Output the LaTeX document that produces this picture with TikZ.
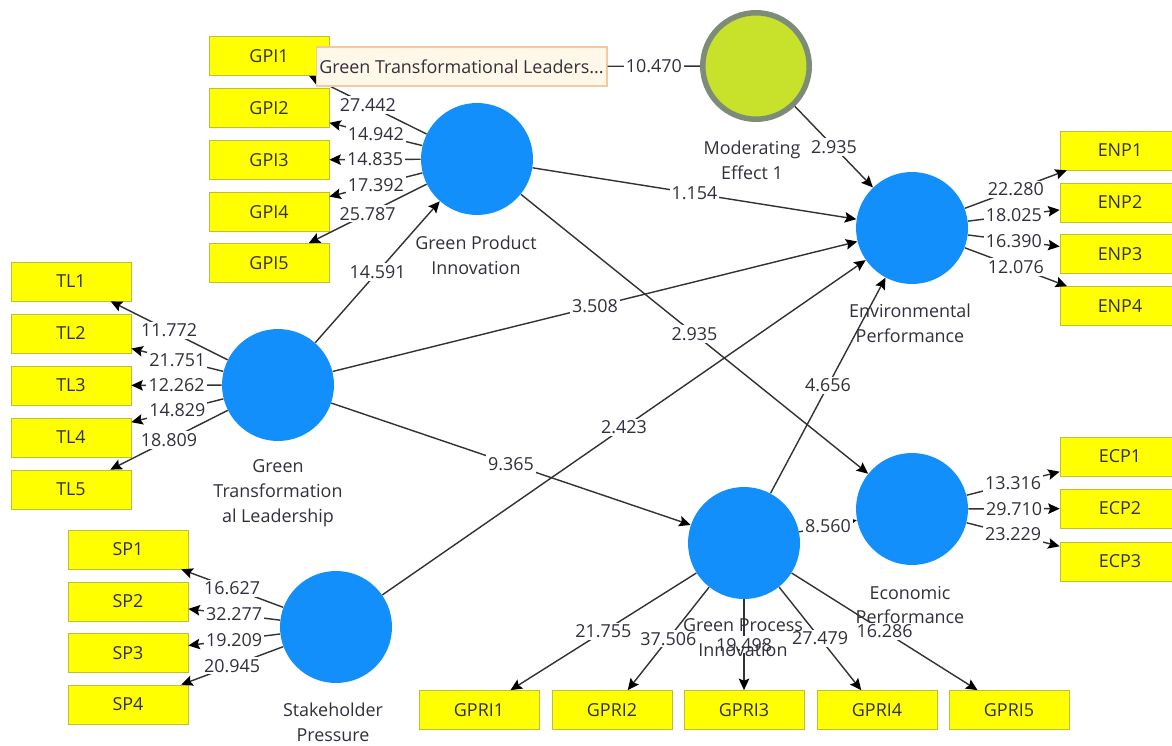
\documentclass[tikz,border=0pt]{standalone}
\usepackage{fontspec}
\setmainfont{Open Sans}
\usetikzlibrary{arrows.meta}
\newcommand\myfs{\fontsize{10.2}{14.2}\selectfont}
\definecolor{latblue}{RGB}{18,143,250}
\definecolor{modfill}{RGB}{200,225,42}
\definecolor{modline}{RGB}{125,140,120}
\definecolor{indfill}{RGB}{255,255,0}
\definecolor{indline}{RGB}{190,190,60}
\definecolor{edgecol}{RGB}{50,50,50}
\definecolor{txtcol}{RGB}{48,48,60}
\definecolor{tipfill}{RGB}{255,248,232}
\definecolor{tipline}{RGB}{245,200,160}
\tikzset{
 latent/.style={circle, fill=latblue, draw=none, minimum size=2.24cm, inner sep=0pt},
 modlat/.style={circle, fill=modfill, draw=modline, line width=0.11cm, minimum size=2.13cm, inner sep=0pt},
 ind/.style={rectangle, fill=indfill, draw=indline, line width=0.4pt, minimum width=2.4cm, minimum height=0.78cm, inner sep=0pt, font=\myfs, text=txtcol},
 latcap/.style={align=center, font=\myfs, text=txtcol, inner sep=0pt},
 val/.style={fill=white, inner sep=1.2pt, font=\myfs, text=txtcol},
 conn/.style={draw=edgecol, line width=0.8pt, -{Stealth[length=0.23cm,width=0.21cm,inset=0.04cm,fill=black,color=black]}},
 tiplink/.style={draw=edgecol, line width=0.8pt},
 tipbox/.style={rectangle, fill=tipfill, draw=tipline, line width=0.6pt, minimum width=5.82cm, minimum height=0.78cm, inner sep=0pt, font=\myfs, text=txtcol}
}
\begin{document}
\begin{tikzpicture}[x=0.02cm, y=-0.02cm]
\fill[white] (0,0) rectangle (1172,746);
\clip (0,0) rectangle (1172,746);

% latent variables
\node[latent] (gtl) at (278,385) {};
\node[latent] (gpi) at (477,159) {};
\node[modlat] (mod) at (756,66) {};
\node[latent] (enp) at (912,228) {};
\node[latent] (ecp) at (912,509) {};
\node[latent] (gpri) at (744,543) {};
\node[latent] (sp) at (336,627) {};

% indicators
\node[ind] (gpi1) at (269,56) {GPI1};
\node[ind] (gpi2) at (269,108) {GPI2};
\node[ind] (gpi3) at (269,160) {GPI3};
\node[ind] (gpi4) at (269,212) {GPI4};
\node[ind] (gpi5) at (269,263) {GPI5};

\node[ind] (tl1) at (71,281.5) {TL1};
\node[ind] (tl2) at (71,333.5) {TL2};
\node[ind] (tl3) at (71,385.5) {TL3};
\node[ind] (tl4) at (71,437.5) {TL4};
\node[ind] (tl5) at (71,489.5) {TL5};

\node[ind] (sp1) at (128,549.5) {SP1};
\node[ind] (sp2) at (128,601.5) {SP2};
\node[ind] (sp3) at (128,653) {SP3};
\node[ind] (sp4) at (128,704.5) {SP4};

\node[ind] (enp1) at (1120,150.5) {ENP1};
\node[ind] (enp2) at (1120,202.5) {ENP2};
\node[ind] (enp3) at (1120,254) {ENP3};
\node[ind] (enp4) at (1120,306) {ENP4};

\node[ind] (ecp1) at (1120,456.5) {ECP1};
\node[ind] (ecp2) at (1120,508.5) {ECP2};
\node[ind] (ecp3) at (1120,561.5) {ECP3};

\node[ind] (gpri1) at (479,710) {GPRI1};
\node[ind] (gpri2) at (612,710) {GPRI2};
\node[ind] (gpri3) at (744,710) {GPRI3};
\node[ind] (gpri4) at (877,710) {GPRI4};
\node[ind] (gpri5) at (1009,710) {GPRI5};

% outer model
\draw[conn] (gpi) -- node[val]{27.442} (gpi1);
\draw[conn] (gpi) -- node[val]{14.942} (gpi2);
\draw[conn] (gpi) -- node[val]{14.835} (gpi3);
\draw[conn] (gpi) -- node[val]{17.392} (gpi4);
\draw[conn] (gpi) -- node[val]{25.787} (gpi5);

\draw[conn] (gtl) -- node[val]{11.772} (tl1);
\draw[conn] (gtl) -- node[val]{21.751} (tl2);
\draw[conn] (gtl) -- node[val]{12.262} (tl3);
\draw[conn] (gtl) -- node[val]{14.829} (tl4);
\draw[conn] (gtl) -- node[val]{18.809} (tl5);

\draw[conn] (sp) -- node[val]{16.627} (sp1);
\draw[conn] (sp) -- node[val]{32.277} (sp2);
\draw[conn] (sp) -- node[val]{19.209} (sp3);
\draw[conn] (sp) -- node[val]{20.945} (sp4);

\draw[conn] (enp) -- node[val]{22.280} (enp1);
\draw[conn] (enp) -- node[val]{18.025} (enp2);
\draw[conn] (enp) -- node[val]{16.390} (enp3);
\draw[conn] (enp) -- node[val]{12.076} (enp4);

\draw[conn] (ecp) -- node[val]{13.316} (ecp1);
\draw[conn] (ecp) -- node[val]{29.710} (ecp2);
\draw[conn] (ecp) -- node[val]{23.229} (ecp3);

\draw[conn] (gpri) -- node[val]{21.755} (gpri1);
\draw[conn] (gpri) -- node[val]{37.506} (gpri2);
\draw[conn] (gpri) -- node[val]{19.498} (gpri3);
\draw[conn] (gpri) -- node[val]{27.479} (gpri4);
\draw[conn] (gpri) -- node[val]{16.286} (gpri5);

% inner model
\draw[conn] (gtl) -- node[val]{14.591} (gpi);
\draw[conn] (gpi) -- node[val]{1.154} (enp);
\draw[conn] (gtl) -- node[val]{3.508} (enp);
\draw[conn] (gpi) -- node[val]{2.935} (ecp);
\draw[conn] (gtl) -- node[val]{9.365} (gpri);
\draw[conn] (sp) -- node[val]{2.423} (enp);
\draw[conn] (gpri) -- node[val]{4.656} (enp);
\draw[conn] (gpri) -- node[val]{8.560} (ecp);
\draw[conn] (mod) -- node[val]{2.935} (enp);

% tooltip
\node[tipbox] (tip) at (461.5,66.5) {Green Transformational Leaders...};
\draw[tiplink] (tip) -- node[val]{10.470} (mod);

% captions
\node[latcap] (gpicap) at (476,255) {Green Product\\Innovation};
\node[latcap] (modcap) at (752,160) {Moderating\\Effect 1};
\node[latcap] (enpcap) at (910,323) {Environmental\\Performance};
\node[latcap] (ecpcap) at (910,605) {Economic\\Performance};
\node[latcap] (gpricap) at (743,638) {Green Process\\Innovation};
\node[latcap] (gtlcap) at (278,493) {Green\\Transformation\\al Leadership};
\node[latcap] (spcap) at (333,722) {Stakeholder\\Pressure};
\end{tikzpicture}
\end{document}
